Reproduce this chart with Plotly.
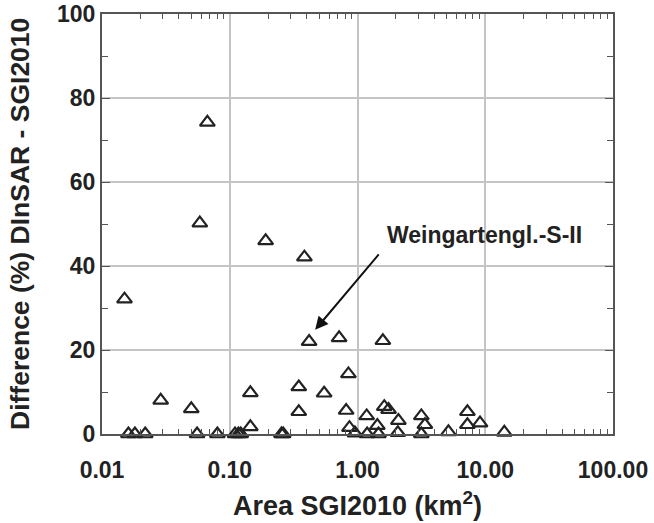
import plotly.graph_objects as go
import math

# Data
area_sgi2010 = [0.015, 0.0161, 0.0181, 0.0218, 0.0288, 0.050, 0.0555, 0.0583, 0.0668, 0.080,
                0.110, 0.117, 0.122, 0.145, 0.145, 0.191, 0.254, 0.262, 0.347, 0.347,
                0.384, 0.418, 0.548, 0.718, 0.815, 0.849, 0.865, 0.955, 1.18, 1.19,
                1.43, 1.46, 1.58, 1.62, 1.75, 2.07, 2.09, 3.16, 3.16, 3.37,
                5.15, 7.25, 7.25, 9.1, 14.1]
difference_pct = [32.1, 0, 0, 0, 8.0, 6.0, 0, 50.2, 74.2, 0,
                  0, 0, 0, 9.8, 1.7, 46.0, 0, 0, 11.2, 5.3,
                  42.1, 22.0, 9.7, 22.9, 5.6, 14.3, 1.5, 0.2, 4.3, 0,
                  2.0, 0, 22.2, 6.5, 5.8, 0.3, 3.2, 4.3, 0, 2.2,
                  0.5, 5.3, 2.2, 2.6, 0.4]

x_tick_vals = [0.01, 0.1, 1, 10, 100]
x_tick_text = ["0.01", "0.10", "1.00", "10.00", "100.00"]
y_tick_vals = [0, 20, 40, 60, 80, 100]

x_title = "Area SGI2010 (km<sup>2</sup>)"
y_title = "Difference (%) DInSAR - SGI2010"
label_text = "Weingartengl.-S-II"
label_pos = (9.8, 47.4)
arrow_head = (0.466, 24.8)
arrow_tail = (1.50, 43.1)

FONT = "Liberation Sans, Arial, Helvetica, sans-serif"
TXT = "#222222"
FRAME = "#555555"
GRID = "#c4c4c4"

x_minor = [k * 10 ** e for e in range(-2, 2) for k in range(2, 10)]

fig = go.Figure()
fig.add_trace(go.Scatter(
    x=area_sgi2010, y=difference_pct, mode="markers",
    marker=dict(symbol="triangle-up-open", size=13, color="#222222",
                line=dict(width=2.2, color="#222222")),
    cliponaxis=False, showlegend=False, hoverinfo="x+y"))

fig.add_annotation(
    x=math.log10(arrow_head[0]), y=arrow_head[1], xref="x", yref="y",
    ax=math.log10(arrow_tail[0]), ay=arrow_tail[1], axref="x", ayref="y",
    text="", showarrow=True, arrowhead=2, arrowsize=1.3, arrowwidth=2,
    arrowcolor="#111111")
fig.add_annotation(
    x=math.log10(label_pos[0]), y=label_pos[1], xref="x", yref="y",
    text="<b>" + label_text + "</b>", showarrow=False,
    font=dict(family=FONT, size=23, color=TXT))

# y-axis title as rotated text placed left of the tick labels
fig.add_annotation(
    x=0, y=0.5, xref="paper", yref="paper", xanchor="center", yanchor="middle",
    xshift=-82, textangle=-90, showarrow=False,
    text="<b>" + y_title + "</b>",
    font=dict(family=FONT, size=26.5, color=TXT))

fig.update_xaxes(
    type="log", range=[-2, 2], automargin=False, ticklabeloverflow="allow",
    tickmode="array", tickvals=x_tick_vals, ticktext=x_tick_text,
    ticks="", showgrid=True, gridcolor=GRID, gridwidth=1.5,
    showline=True, linecolor=FRAME, linewidth=2, mirror="allticks",
    tickfont=dict(family=FONT, size=23, color=TXT, weight="bold"),
    ticklabelstandoff=14,
    minor=dict(tickmode="array", tickvals=x_minor, ticks="inside",
               ticklen=5, tickwidth=1.2, tickcolor=FRAME, showgrid=False),
    title=dict(text="<b>" + x_title + "</b>",
               font=dict(family=FONT, size=27, color=TXT), standoff=15),
    zeroline=False)

fig.update_yaxes(
    range=[0, 100], tickmode="array", tickvals=y_tick_vals,
    automargin=False, ticklabeloverflow="allow",
    ticks="inside", ticklen=8, tickwidth=1.2, tickcolor=FRAME,
    showgrid=True, gridcolor=GRID, gridwidth=1.5,
    showline=True, linecolor=FRAME, linewidth=2, mirror="allticks",
    tickfont=dict(family=FONT, size=23, color=TXT, weight="bold"),
    ticksuffix="\u2009",
    minor=dict(dtick=10, ticks="inside", ticklen=6, tickwidth=1.2,
               tickcolor=FRAME, showgrid=False),
    zeroline=False)

fig.update_layout(
    width=654, height=523,
    margin=dict(l=102, r=41, t=14, b=89),
    plot_bgcolor="white", paper_bgcolor="white",
    font=dict(family=FONT, color=TXT))

fig.write_html(
    "out.html",
    config={"displayModeBar": False},
    post_script="document.body.style.margin='0';document.body.style.overflow='hidden';")
